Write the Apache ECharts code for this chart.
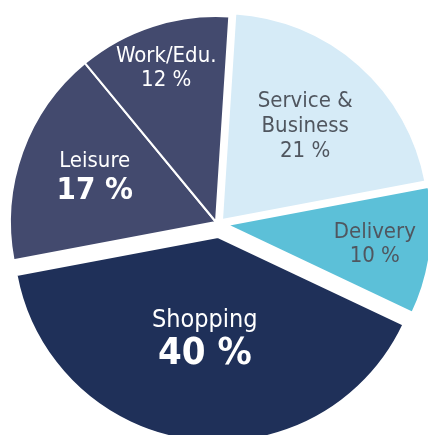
<!DOCTYPE html>
<html>
<head>
<meta charset="utf-8">
<script src="https://cdn.jsdelivr.net/npm/echarts@6/dist/echarts.min.js"></script>
<style>
html, body { margin: 0; padding: 0; background: #fff; }
#chart { width: 428px; height: 435px; }
</style>
</head>
<body>
<div id="chart"></div>
<script>
// data
var categories = ['Service &\nBusiness', 'Delivery', 'Shopping', 'Leisure', 'Work/Edu.'];
var shares = [21, 10, 40, 17, 12];

// look
var colors = ['#d6ebf7', '#5cc0d8', '#1f3059', '#434a6e', '#434a6e'];
var textColors = ['#50565f', '#50565f', '#ffffff', '#ffffff', '#ffffff'];
var nameSizes = [22, 22, 25, 22, 22];
var valueSizes = [22, 22, 38, 31, 22];
var valueBold = [false, false, true, true, false];
// each slice is its own pie so it can be pulled out a bit
var centres = [[222, 220], [227, 225], [218, 237], [216, 222], [216, 222]];
var radii = [207, 205, 205, 206, 206];
// labels ride on an invisible ring, label sits at half of it
var labelRadii = [245, 292, 202, 252, 318];
var startAngle = 86.3;
var font = "'Liberation Sans Narrow', 'Arial Narrow', 'DejaVu Sans Condensed', sans-serif";

var chart = echarts.init(document.getElementById('chart'));

var clear = 'rgba(0,0,0,0)';
var series = [];

// slices
categories.forEach(function (name, i) {
  series.push({
    type: 'pie',
    silent: true,
    animation: false,
    center: centres[i],
    radius: [0, radii[i]],
    startAngle: startAngle,
    clockwise: true,
    label: { show: false },
    labelLine: { show: false },
    data: categories.map(function (c, j) {
      return {
        name: c,
        value: shares[j],
        itemStyle: j === i
          ? { color: colors[j], borderColor: '#fff', borderWidth: 2 }
          : { color: clear, borderWidth: 0 }
      };
    })
  });
});

// labels
categories.forEach(function (name, i) {
  series.push({
    type: 'pie',
    silent: true,
    animation: false,
    center: centres[i],
    radius: [0, labelRadii[i]],
    startAngle: startAngle,
    clockwise: true,
    labelLine: { show: false },
    z: 5,
    data: categories.map(function (c, j) {
      return {
        name: c,
        value: shares[j],
        itemStyle: { color: clear, borderWidth: 0 },
        label: {
          show: j === i,
          position: 'inside',
          formatter: function (p) {
            return '{n|' + p.name + '}\n{v|' + p.value + ' %}';
          },
          rich: {
            n: {
              color: textColors[j],
              fontFamily: font,
              fontSize: nameSizes[j],
              lineHeight: nameSizes[j] + 3,
              align: 'center'
            },
            v: {
              color: textColors[j],
              fontFamily: font,
              fontSize: valueSizes[j],
              fontWeight: valueBold[j] ? 'bold' : 'normal',
              lineHeight: valueSizes[j] + 2,
              align: 'center'
            }
          }
        }
      };
    })
  });
});

chart.setOption({
  backgroundColor: '#fff',
  series: series
});
</script>
</body>
</html>
